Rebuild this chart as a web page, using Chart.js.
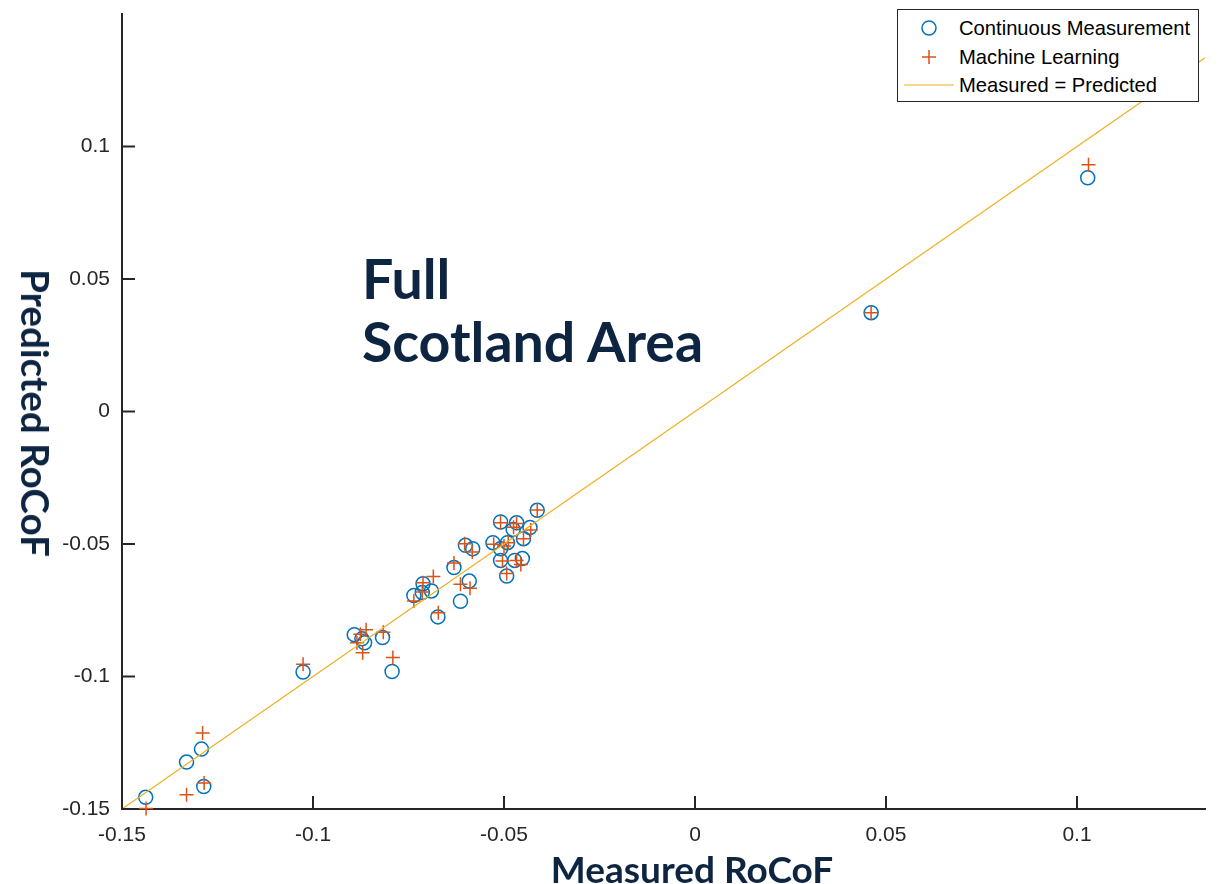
<!DOCTYPE html>
<html>
<head>
<meta charset="utf-8">
<title>RoCoF</title>
<script src="https://cdn.jsdelivr.net/npm/chart.js@4.4.0/dist/chart.umd.min.js"></script>
<style>
  body { margin: 0; background: #fff; }
  #wrap { position: relative; width: 1223px; height: 884px; }
  .navy { position: absolute; color: #0e2542; font-family: Lato, "Open Sans", sans-serif; font-weight: 700; white-space: nowrap; }
  #xTitle { left: 692px; top: 868px; font-size: 37px; transform: translate(-50%, -50%); }
  #yTitle { left: 36px; top: 413px; font-size: 38.5px; transform: translate(-50%, -50%) rotate(90deg); }
  #note { left: 362px; top: 246px; font-size: 55.5px; line-height: 63px; }
  #legend { position: absolute; left: 897px; top: 9px; width: 300px; height: 91px; background: #fff;
            border: 1px solid #262626; font-family: "Liberation Sans", Arial, sans-serif; font-size: 20.2px; color: #000; }
  #legend .row { position: absolute; left: 0; height: 28px; line-height: 28px; }
  #legend svg { position: absolute; left: 6px; top: 0; }
  #legend span { position: absolute; left: 61px; top: 0; white-space: nowrap; }
</style>
</head>
<body>
<div id="wrap">
  <canvas id="myChart"></canvas>
  <div id="legend"></div>
  <div class="navy" id="xTitle">Measured RoCoF</div>
  <div class="navy" id="yTitle">Predicted RoCoF</div>
  <div class="navy" id="note">Full<br>Scotland Area</div>
</div>
<script>
// axis ticks
const xTicks = [-0.15, -0.1, -0.05, 0, 0.05, 0.1];
const yTicks = [-0.15, -0.1, -0.05, 0, 0.05, 0.1];

// Continuous Measurement (circles)
const cmMeasured = [-0.1438, -0.1331, -0.1292, -0.1286, -0.1026, -0.0892, -0.0872, -0.0865, -0.0818, -0.0793,
  -0.0736, -0.0714, -0.0712, -0.0690, -0.0673, -0.0631, -0.0614, -0.0591, -0.0601, -0.0582,
  -0.0529, -0.0509, -0.0509, -0.0493, -0.0491, -0.0476, -0.0467, -0.0472, -0.0452, -0.0449,
  -0.0432, -0.0413, -0.0509, 0.0461, 0.1028];
const cmPredicted = [-0.1456, -0.1323, -0.1274, -0.1415, -0.0983, -0.0842, -0.0858, -0.0873, -0.0853, -0.0981,
  -0.0694, -0.0683, -0.0650, -0.0677, -0.0775, -0.0589, -0.0716, -0.0640, -0.0505, -0.0518,
  -0.0495, -0.0417, -0.0562, -0.0621, -0.0495, -0.0445, -0.0420, -0.0562, -0.0555, -0.0480,
  -0.0438, -0.0373, -0.0518, 0.0373, 0.0882];

// Machine Learning (plus signs)
const mlMeasured = [-0.1437, -0.1331, -0.1289, -0.1285, -0.1026, -0.0885, -0.0876, -0.0861, -0.0870, -0.0816,
  -0.0791, -0.0736, -0.0714, -0.0712, -0.0685, -0.0672, -0.0631, -0.0614, -0.0589, -0.0603,
  -0.0583, -0.0527, -0.0509, -0.0500, -0.0504, -0.0493, -0.0467, -0.0475, -0.0456, -0.0467,
  -0.0449, -0.0430, -0.0413, -0.0489, 0.0461, 0.1030];
const mlPredicted = [-0.1498, -0.1446, -0.1213, -0.1402, -0.0954, -0.0873, -0.0841, -0.0824, -0.0910, -0.0833,
  -0.0928, -0.0715, -0.0681, -0.0646, -0.0623, -0.0759, -0.0572, -0.0652, -0.0667, -0.0499,
  -0.0530, -0.0501, -0.0420, -0.0508, -0.0564, -0.0611, -0.0423, -0.0437, -0.0577, -0.0562,
  -0.0480, -0.0447, -0.0372, -0.0495, 0.0373, 0.0931];

// reference line Measured = Predicted
const lineRange = [-0.15, 0.1335];

const seriesNames = ['Continuous Measurement', 'Machine Learning', 'Measured = Predicted'];
const blue = '#0072BD';
const orange = '#D95319';
const yellow = '#EDB120';
const axisColor = '#262626';

const toPoints = (xs, ys) => xs.map((x, i) => ({ x: x, y: ys[i] }));

// MATLAB-style ticks pointing into the plot
const innerTicks = {
  id: 'innerTicks',
  afterDraw(chart) {
    const { ctx, chartArea, scales } = chart;
    ctx.save();
    ctx.strokeStyle = axisColor;
    ctx.lineWidth = 2;
    xTicks.forEach(v => {
      const px = scales.x.getPixelForValue(v);
      ctx.beginPath();
      ctx.moveTo(px, chartArea.bottom);
      ctx.lineTo(px, chartArea.bottom - 13);
      ctx.stroke();
    });
    yTicks.forEach(v => {
      const py = scales.y.getPixelForValue(v);
      ctx.beginPath();
      ctx.moveTo(chartArea.left, py);
      ctx.lineTo(chartArea.left + 13, py);
      ctx.stroke();
    });
    ctx.restore();
  }
};

// no extra room for overhanging tick labels, the plot box is fixed
const fixPadding = s => {
  s.paddingTop = 0;
  s.paddingBottom = 0;
  s.paddingLeft = 0;
  s.paddingRight = 0;
};

const tickLabel = v => String(Math.round(v * 100) / 100);
const tickFont = { family: '"Liberation Sans", Arial, sans-serif', size: 21 };

const ctx = document.getElementById('myChart');
const chart = new Chart(ctx, {
  type: 'scatter',
  data: {
    datasets: [
      {
        label: seriesNames[0],
        data: toPoints(cmMeasured, cmPredicted),
        pointStyle: 'circle',
        pointRadius: 7,
        pointBorderWidth: 1.5,
        borderColor: blue,
        backgroundColor: 'rgba(0,0,0,0)',
        clip: false,
        order: 3
      },
      {
        label: seriesNames[1],
        data: toPoints(mlMeasured, mlPredicted),
        pointStyle: 'cross',
        pointRadius: 7,
        pointBorderWidth: 1.5,
        borderColor: orange,
        backgroundColor: orange,
        clip: false,
        order: 2
      },
      {
        type: 'line',
        label: seriesNames[2],
        data: toPoints(lineRange, lineRange),
        borderColor: yellow,
        borderWidth: 1.2,
        pointRadius: 0,
        fill: false,
        order: 1
      }
    ]
  },
  options: {
    responsive: true,
    maintainAspectRatio: false,
    animation: false,
    layout: { padding: { left: 0, top: 14, right: 18, bottom: 0 } },
    plugins: {
      legend: { display: false },
      tooltip: { enabled: false }
    },
    scales: {
      x: {
        type: 'linear',
        min: -0.15,
        max: 0.1335,
        afterBuildTicks: s => { s.ticks = xTicks.map(v => ({ value: v })); },
        afterFit: s => { s.height = 75; fixPadding(s); },
        grid: { display: false, drawTicks: false },
        border: { display: true, color: axisColor, width: 2 },
        ticks: { padding: 14, color: axisColor, font: tickFont, callback: tickLabel, maxRotation: 0, autoSkip: false }
      },
      y: {
        type: 'linear',
        min: -0.15,
        max: 0.15,
        afterBuildTicks: s => { s.ticks = yTicks.map(v => ({ value: v })); },
        afterFit: s => { s.width = 122; fixPadding(s); },
        grid: { display: false, drawTicks: false },
        border: { display: true, color: axisColor, width: 2 },
        ticks: { padding: 12, color: axisColor, font: tickFont, callback: tickLabel, autoSkip: false }
      }
    }
  },
  plugins: [innerTicks]
});

// legend box inside the axes, built from the datasets
const legendIcons = [
  '<svg width="50" height="28"><circle cx="25" cy="14" r="7" fill="none" stroke="' + blue + '" stroke-width="1.5"/></svg>',
  '<svg width="50" height="28"><path d="M25 7V21M18 14H32" stroke="' + orange + '" stroke-width="1.5"/></svg>',
  '<svg width="50" height="28"><line x1="0" y1="14" x2="50" y2="14" stroke="' + yellow + '" stroke-width="1.2"/></svg>'
];
const legendEl = document.getElementById('legend');
chart.data.datasets.forEach((ds, i) => {
  const row = document.createElement('div');
  row.className = 'row';
  row.style.top = (4 + i * 28.5) + 'px';
  row.innerHTML = legendIcons[i] + '<span>' + ds.label + '</span>';
  legendEl.appendChild(row);
});
</script>
</body>
</html>
